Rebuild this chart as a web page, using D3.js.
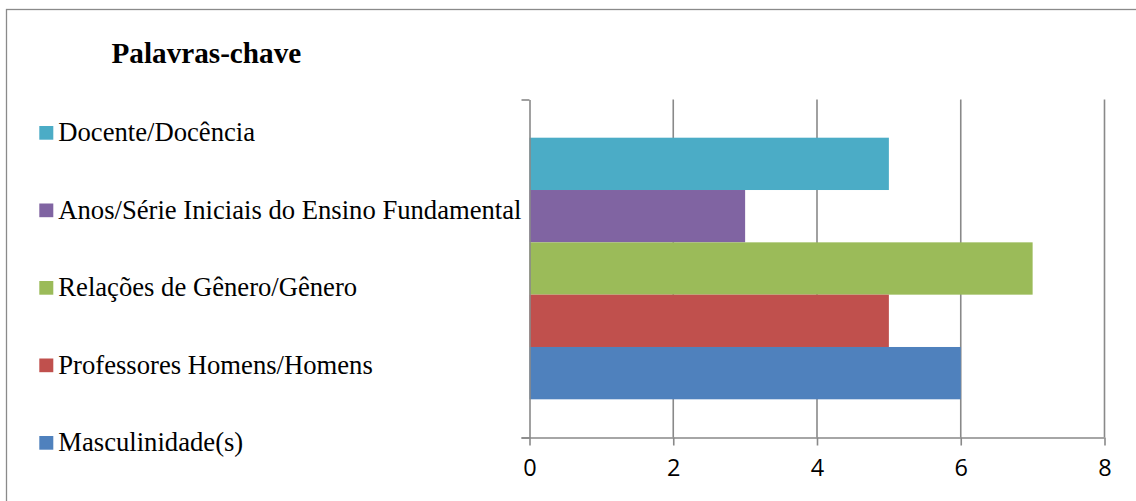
<!DOCTYPE html>
<html>
<head>
<meta charset="utf-8">
<script src="https://cdn.jsdelivr.net/npm/d3@7"></script>
<style>
  html, body { margin: 0; padding: 0; background: #fff; }
  svg { display: block; }
</style>
</head>
<body>
<svg id="chart" width="1136" height="501"></svg>
<script>
// ---- data ----
const title = "Palavras-chave";
const seriesNames = [
  "Docente/Docência",
  "Anos/Série Iniciais do Ensino Fundamental",
  "Relações de Gênero/Gênero",
  "Professores Homens/Homens",
  "Masculinidade(s)"
];
const seriesValues = [5, 3, 7, 5, 6];
const seriesColors = ["#4BACC6", "#8064A2", "#9BBB59", "#C0504D", "#4F81BD"];
const xTicks = [0, 2, 4, 6, 8];

// ---- layout ----
const svg = d3.select("#chart");
const W = 1136, H = 501;
const plot = { left: 529.5, right: 1104.5, top: 99.5, bottom: 437.5 };
const axisColor = "#898989";

// outer border
svg.append("rect")
  .attr("x", 6.5).attr("y", 9.5)
  .attr("width", W + 20).attr("height", H + 20)
  .attr("fill", "none").attr("stroke", "#8a8a8a").attr("stroke-width", 1.3);

// title
svg.append("text")
  .attr("x", 111.5).attr("y", 63)
  .attr("font-family", "'Liberation Serif', 'Times New Roman', serif")
  .attr("font-weight", "bold")
  .attr("font-size", "29.2px")
  .attr("fill", "#000")
  .text(title);

const x = d3.scaleLinear().domain([0, 8]).range([plot.left, plot.right]);
const y = d3.scaleBand().domain(seriesNames)
  .range([plot.top, plot.bottom])
  .paddingInner(0).paddingOuter(0.73);

// gridlines
svg.append("g").selectAll("line")
  .data(xTicks.filter(d => d !== 0))
  .join("line")
  .attr("x1", d => x(d)).attr("x2", d => x(d))
  .attr("y1", plot.top).attr("y2", plot.bottom)
  .attr("stroke", axisColor).attr("stroke-width", 1.6);

// bars
svg.append("g").selectAll("rect")
  .data(seriesNames.map((n, i) => ({ n, v: seriesValues[i], c: seriesColors[i] })))
  .join("rect")
  .attr("x", x(0))
  .attr("y", d => y(d.n))
  .attr("width", d => x(d.v) - x(0))
  .attr("height", y.bandwidth())
  .attr("fill", d => d.c);

// x axis
const xAxis = d3.axisBottom(x).tickValues(xTicks).tickSize(8).tickSizeOuter(0).tickPadding(14);
const gx = svg.append("g").attr("transform", `translate(0,${plot.bottom})`).call(xAxis);
gx.select(".domain").attr("stroke", axisColor).attr("stroke-width", 1.6)
  .attr("d", `M${plot.left - 8},0.5H${plot.right}`);
gx.selectAll(".tick line").attr("stroke", axisColor).attr("stroke-width", 1.6);
gx.selectAll(".tick text")
  .attr("font-family", "'Open Sans', 'Liberation Sans', sans-serif")
  .attr("font-size", "23.5px")
  .attr("fill", "#000");

// y axis line with end ticks
const yAxisScale = d3.scaleLinear().domain([0, 1]).range([plot.bottom, plot.top]);
const yAxis = d3.axisLeft(yAxisScale).tickValues([0, 1]).tickSize(8).tickSizeOuter(0).tickFormat("");
const gy = svg.append("g").attr("transform", `translate(${plot.left},0)`).call(yAxis);
gy.select(".domain").attr("stroke", axisColor).attr("stroke-width", 1.6);
gy.selectAll(".tick line").attr("stroke", axisColor).attr("stroke-width", 1.6);

// legend
const legY0 = 141, legStep = 77.5;
const leg = svg.append("g").selectAll("g")
  .data(seriesNames.map((n, i) => ({ n, c: seriesColors[i] })))
  .join("g")
  .attr("transform", (d, i) => `translate(0,${legY0 + i * legStep})`);
leg.append("rect")
  .attr("x", 39.3).attr("y", -15)
  .attr("width", 14).attr("height", 13.7)
  .attr("fill", d => d.c);
leg.append("text")
  .attr("x", 58.3).attr("y", 0)
  .attr("font-family", "'Liberation Serif', 'Times New Roman', serif")
  .attr("font-size", "26.65px")
  .attr("fill", "#000")
  .text(d => d.n);
</script>
</body>
</html>
